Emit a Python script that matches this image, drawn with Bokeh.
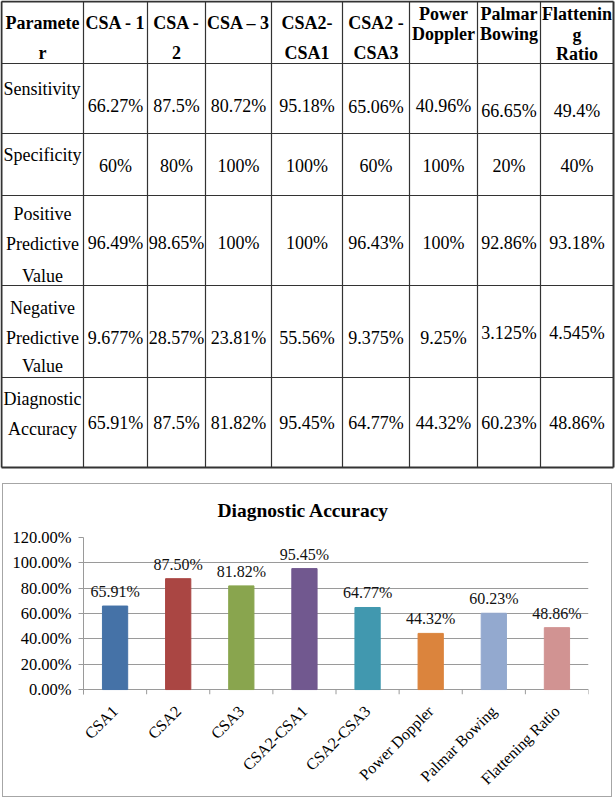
import math
from bokeh.plotting import figure
from bokeh.models import (Range1d, FactorRange, ColumnDataSource, NumeralTickFormatter,
                          FixedTicker)
from bokeh.layouts import column
from bokeh.embed import file_html
from bokeh.resources import INLINE
from bokeh.core.properties import value

FONT = "Liberation Serif"

# ---------------- table data ----------------
header_lines = [["Paramete", "r"], ["CSA - 1"], ["CSA -", "2"], ["CSA \u2013 3"],
                ["CSA2-", "CSA1"], ["CSA2 -", "CSA3"], ["Power", "Doppler"],
                ["Palmar", "Bowing"], ["Flattenin", "g", "Ratio"]]
row_labels = [["Sensitivity"], ["Specificity"], ["Positive", "Predictive", "Value"],
              ["Negative", "Predictive", "Value"], ["Diagnostic", "Accuracy"]]
sensitivity = ["66.27%", "87.5%", "80.72%", "95.18%", "65.06%", "40.96%", "66.65%", "49.4%"]
specificity = ["60%", "80%", "100%", "100%", "60%", "100%", "20%", "40%"]
ppv = ["96.49%", "98.65%", "100%", "100%", "96.43%", "100%", "92.86%", "93.18%"]
npv = ["9.677%", "28.57%", "23.81%", "55.56%", "9.375%", "9.25%", "3.125%", "4.545%"]
diag_acc_text = ["65.91%", "87.5%", "81.82%", "95.45%", "64.77%", "44.32%", "60.23%", "48.86%"]
table_rows = [sensitivity, specificity, ppv, npv, diag_acc_text]

# ---------------- chart data ----------------
categories = ["CSA1", "CSA2", "CSA3", "CSA2-CSA1", "CSA2-CSA3", "Power Doppler",
              "Palmar Bowing", "Flattening Ratio"]
accuracy = [0.6591, 0.8750, 0.8182, 0.9545, 0.6477, 0.4432, 0.6023, 0.4886]
bar_colors = ["#4572A7", "#AA4643", "#89A54E", "#71588F", "#4198AF", "#DB843D",
              "#93A9CF", "#D19392"]
y_ticks = [0, 0.2, 0.4, 0.6, 0.8, 1.0, 1.2]

# ---------------- table layout ----------------
col_edges = [1, 83, 147, 205, 271, 342, 409, 477, 540, 613]
row_edges = [1, 63, 133, 195, 285, 377, 467]
header_ys = [[22, 52]] * 6 + [[13, 33], [13, 33], [13, 34, 53]]
label_layout = [("left", [88]), ("left", [154]), ("center", [213, 243, 275]),
                ("center", [307, 337, 365]), ("center", [398, 428])]
value_row_y = [105, 165, 242, 337, 422]
value_dy = {(0, 6): 5, (0, 7): 5, (0, 4): 1, (3, 6): -5, (3, 7): -5}

tp = figure(width=615, height=472, x_range=Range1d(0, 615),
            y_range=Range1d(472, 0), x_axis_location=None, y_axis_location=None,
            toolbar_location=None, output_backend="svg", min_border=0)
tp.grid.visible = False
tp.outline_line_color = None

line_col = "#333333"
n_c = len(col_edges)
n_r = len(row_edges)
tp.segment(x0=col_edges[1:-1], x1=col_edges[1:-1], y0=[row_edges[0]] * (n_c - 2),
           y1=[row_edges[-1]] * (n_c - 2), line_color=line_col, line_width=1.2)
tp.segment(x0=[col_edges[0]] * (n_r - 2), x1=[col_edges[-1]] * (n_r - 2),
           y0=row_edges[1:-1], y1=row_edges[1:-1], line_color=line_col, line_width=1.2)
tp.segment(x0=[col_edges[0], col_edges[-1], col_edges[0], col_edges[0]],
           x1=[col_edges[0], col_edges[-1], col_edges[-1], col_edges[-1]],
           y0=[row_edges[0], row_edges[0], row_edges[0], row_edges[-1]],
           y1=[row_edges[-1], row_edges[-1], row_edges[0], row_edges[-1]],
           line_color=line_col, line_width=2)

centers = [(col_edges[i] + col_edges[i + 1]) / 2 for i in range(n_c - 1)]

hx, hy, ht = [], [], []
for ci, lines in enumerate(header_lines):
    for li, t in enumerate(lines):
        hx.append(centers[ci]); hy.append(header_ys[ci][li]); ht.append(t)
tp.text(x=hx, y=hy, text=ht, text_font=value(FONT), text_font_size="18px",
        text_font_style="bold", text_align="center", text_baseline="middle", text_color="#000000")

lx_l, ly_l, lt_l, lx_c, ly_c, lt_c = [], [], [], [], [], []
for ri, lines in enumerate(row_labels):
    align, ys = label_layout[ri]
    for li, t in enumerate(lines):
        if align == "left":
            lx_l.append(col_edges[0] + 2); ly_l.append(ys[li]); lt_l.append(t)
        else:
            lx_c.append(centers[0]); ly_c.append(ys[li]); lt_c.append(t)
tp.text(x=lx_l, y=ly_l, text=lt_l, text_font=value(FONT), text_font_size="18px",
        text_align="left", text_baseline="middle", text_color="#000000")
tp.text(x=lx_c, y=ly_c, text=lt_c, text_font=value(FONT), text_font_size="18px",
        text_align="center", text_baseline="middle", text_color="#000000")

vx, vy, vt = [], [], []
for ri, row in enumerate(table_rows):
    for ci, t in enumerate(row):
        vx.append(centers[ci + 1])
        vy.append(value_row_y[ri] + value_dy.get((ri, ci), 0))
        vt.append(t)
tp.text(x=vx, y=vy, text=vt, text_font=value(FONT), text_font_size="18px",
        text_align="center", text_baseline="middle", text_color="#000000")

# ---------------- chart ----------------
grid_col = "#9a9a9a"
cp = figure(width=608, height=316, x_range=FactorRange(*categories),
            y_range=Range1d(-0.039, 1.2), toolbar_location=None, output_backend="svg",
            min_border_left=80, min_border_right=23, min_border_top=57, min_border_bottom=100,
            title="Diagnostic Accuracy", margin=(-4, 0, 0, 0))
cp.border_fill_alpha = 0
cp.outline_line_color = None
cp.title.align = "left"
cp.title.offset = 134
cp.title.standoff = 34
cp.title.text_font = FONT
cp.title.text_font_style = "bold"
cp.title.text_font_size = "19.5px"
cp.title.text_color = "#000000"

cp.xgrid.visible = False
cp.ygrid.ticker = FixedTicker(ticks=y_ticks)
cp.ygrid.grid_line_color = grid_col
cp.ygrid.grid_line_width = 1

src = ColumnDataSource(dict(cat=categories, acc=accuracy, color=bar_colors,
                            label=[f"{v * 100:.2f}%" for v in accuracy]))
cp.vbar(x="cat", top="acc", width=0.4, fill_color="color", line_color="color", source=src)
cp.text(x="cat", y="acc", text="label", source=src, text_font=value(FONT),
        text_font_size="16px", text_align="center", text_baseline="bottom",
        y_offset=-6, text_color="#111111")

# category boundary tick marks (below the 0 line)
bounds = list(range(len(categories) + 1))
cp.segment(x0=bounds, x1=bounds, y0=[0] * len(bounds), y1=[-0.039] * len(bounds),
           line_color=grid_col, line_width=1)

cp.yaxis.ticker = FixedTicker(ticks=y_ticks)
cp.yaxis.formatter = NumeralTickFormatter(format="0.00%")
cp.yaxis.major_tick_in = 0
cp.yaxis.major_tick_out = 5
cp.yaxis.minor_tick_line_color = None
cp.yaxis.axis_line_color = grid_col
cp.yaxis.major_tick_line_color = grid_col
cp.yaxis.major_label_text_font = FONT
cp.yaxis.major_label_text_font_size = "16.5px"
cp.yaxis.major_label_text_color = "#000000"
cp.yaxis.major_label_standoff = 7

cp.xaxis.major_label_orientation = math.pi / 4
cp.xaxis.major_tick_line_color = None
cp.xaxis.axis_line_color = None
cp.xaxis.major_label_text_font = FONT
cp.xaxis.major_label_text_font_size = "16px"
cp.xaxis.major_label_text_color = "#000000"
cp.xaxis.major_label_standoff = 8

chart_box = column(cp, margin=(11, 0, 0, 2), styles={"border": "1px solid #a6a6a6"})

open("out.html", "w").write(file_html([tp, chart_box], INLINE))
